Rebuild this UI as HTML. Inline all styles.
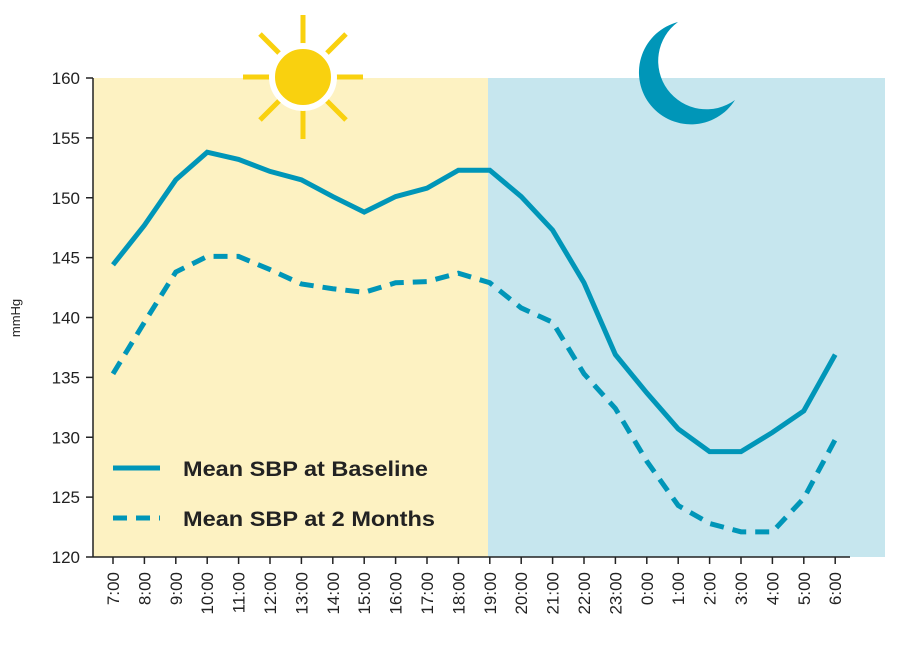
<!DOCTYPE html>
<html><head><meta charset="utf-8"><style>
body{margin:0;background:#fff;}
svg{display:block;font-family:"Liberation Sans",sans-serif;}
</style></head><body>
<svg id="chart" width="900" height="650">
<rect x="93" y="78" width="395" height="479" fill="#fdf2c2"/>
<rect x="488" y="78" width="397" height="479" fill="#c6e6ee"/>
<g stroke="#f9d10f" stroke-width="5">
<line x1="243" y1="77" x2="363" y2="77"/><line x1="303" y1="15" x2="303" y2="139"/>
<line x1="260" y1="34" x2="346" y2="120"/><line x1="346" y1="34" x2="260" y2="120"/>
<circle cx="303" cy="77" r="31" fill="#f9d10f" stroke="#fff" stroke-width="6"/>
</g>
<path d="M678,22 A52,52 0 1 0 735,100 A48,48 0 0 1 678,22 Z" fill="#0096b8"/>
<g id="axes"></g>
<g id="marks"></g>
<g>
<line x1="113" y1="468" x2="160" y2="468" stroke="#0096b8" stroke-width="5"/>
<text x="183" y="476" font-size="21" font-weight="bold" fill="#222" textLength="245" lengthAdjust="spacingAndGlyphs">Mean SBP at Baseline</text>
<line x1="113" y1="518" x2="160" y2="518" stroke="#0096b8" stroke-width="5" stroke-dasharray="14,9"/>
<text x="183" y="526" font-size="21" font-weight="bold" fill="#222" textLength="252" lengthAdjust="spacingAndGlyphs">Mean SBP at 2 Months</text>
</g>
<text transform="translate(20,318) rotate(-90)" text-anchor="middle" font-size="13" fill="#222">mmHg</text>
</svg>
<script>
const categories=["7:00","8:00","9:00","10:00","11:00","12:00","13:00","14:00","15:00","16:00","17:00","18:00","19:00","20:00","21:00","22:00","23:00","0:00","1:00","2:00","3:00","4:00","5:00","6:00"];
const baseline=[144.4,147.7,151.5,153.8,153.2,152.2,151.5,150.1,148.8,150.1,150.8,152.3,152.3,150.1,147.3,142.9,136.9,133.7,130.7,128.8,128.8,130.4,132.2,136.9];
const twoMonths=[135.3,139.6,143.8,145.1,145.1,144.0,142.8,142.4,142.1,142.9,143.0,143.7,142.9,140.8,139.6,135.3,132.4,128.0,124.3,122.8,122.1,122.1,124.9,129.8];
const yTicks=[120,125,130,135,140,145,150,155,160];
const NS="http://www.w3.org/2000/svg";
function y(v){return 557-(v-120)*(479/40);}
function x(i){return 113+i*31.4;}
const axes=document.getElementById('axes'),marks=document.getElementById('marks');
function el(t,a,p){const e=document.createElementNS(NS,t);for(const k in a)e.setAttribute(k,a[k]);p.appendChild(e);return e;}
let ax=el('line',{x1:93,y1:78,x2:93,y2:557,stroke:'#222','stroke-width':1.5},axes);


let bx=el('line',{x1:93,y1:557,x2:850,y2:557,stroke:'#222','stroke-width':1.5},axes);


yTicks.forEach(v=>{
 const tk=el('line',{x1:86,x2:93,y1:y(v),y2:y(v),stroke:'#222','stroke-width':1.5},axes);
 
 
 const t=el('text',{x:80,y:y(v)+6,'text-anchor':'end','font-size':17,fill:'#222'},axes);
 t.textContent=v;
 
 
});
categories.forEach((c,i)=>{
 const tk=el('line',{x1:x(i),x2:x(i),y1:557,y2:564,stroke:'#222','stroke-width':1.5},axes);
 
 
 const t=el('text',{transform:`translate(${x(i)+6},572) rotate(-90)`,'text-anchor':'end','font-size':17,fill:'#222'},axes);
 t.textContent=c;
 
 
});
function line(data,dash,name){
 const p=el('polyline',{points:data.map((v,i)=>x(i)+','+y(v)).join(' '),fill:'none',stroke:'#0096b8','stroke-width':5,'stroke-linejoin':'miter'},marks);
 if(dash)p.setAttribute('stroke-dasharray',dash);
 
 
}
line(baseline,null,'baseline-line');
line(twoMonths,'14,9','two-months-line');
</script>
</body></html>
